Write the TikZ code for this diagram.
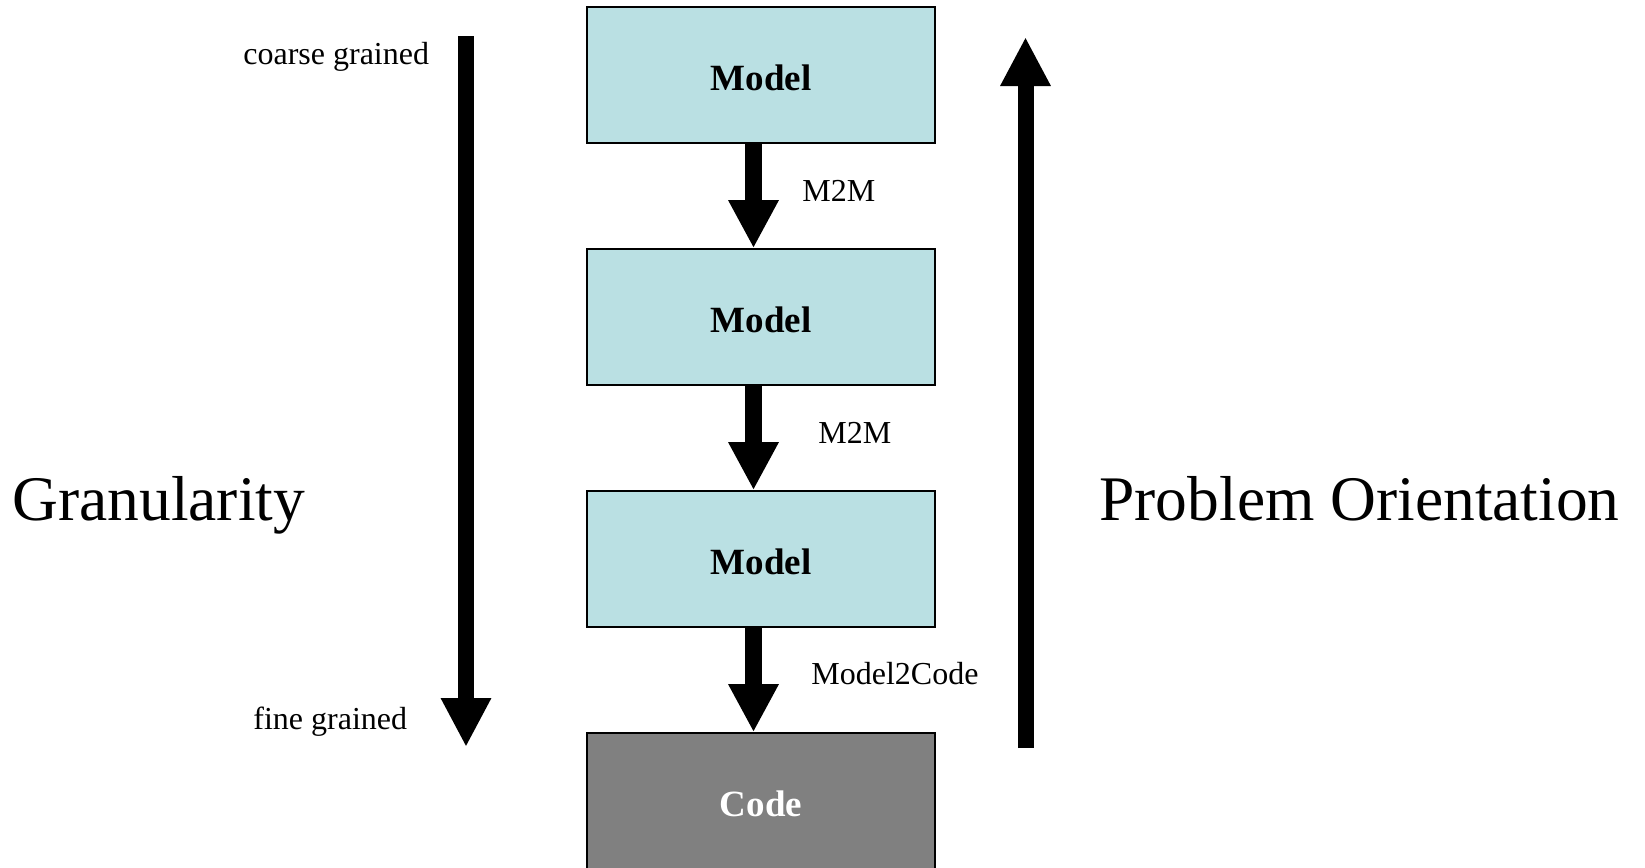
\documentclass[tikz,border=0pt]{standalone}
\usepackage{fontspec}
\setmainfont{Liberation Serif}
\usetikzlibrary{arrows.meta}
\definecolor{modelfill}{RGB}{186,224,227}
\definecolor{codefill}{RGB}{128,128,128}
\begin{document}
\begin{tikzpicture}[x=0.5pt,y=-0.5pt,
  stage/.style={draw=black,line width=0.8pt,minimum width=174pt,minimum height=68pt,inner sep=0pt,
    text depth=0pt,text height=15.5pt,font=\fontsize{18.5}{20}\selectfont\bfseries},
  modelbox/.style={stage,fill=modelfill},
  codebox/.style={stage,fill=codefill,text=white},
  flow/.style={line width=8.5pt,-{Triangle[width=23.5pt,length=24pt]}},
  axisarrow/.style={line width=8pt,-{Triangle[width=23.5pt,length=24.5pt]}},
  small/.style={anchor=base west,inner sep=0pt,font=\fontsize{16}{18}\selectfont},
  big/.style={anchor=base west,inner sep=0pt,font=\fontsize{31.75}{34}\selectfont}]
\useasboundingbox (0,0) rectangle (1645,868);

% the chain of models ending in code
\node[modelbox] (m1) at (761,75) {Model};
\node[modelbox] (m2) at (761,317) {Model};
\node[modelbox] (m3) at (761,559) {Model};
\node[codebox] (code) at (761,801) {Code};

\draw[flow] ([xshift=-3.75pt]m1.south) -- ([xshift=-3.75pt]m2.north);
\draw[flow] ([xshift=-3.75pt]m2.south) -- ([xshift=-3.75pt]m3.north);
\draw[flow] ([xshift=-3.75pt]m3.south) -- ([xshift=-3.75pt]code.north);

\node[small] (t1) at (802,201) {M2M};
\node[small] (t2) at (818,443) {M2M};
\node[small] (t3) at (811,684) {Model2Code};

% granularity axis (downwards)
\coordinate (gtop) at (466,36);
\coordinate (gbot) at (466,747);
\draw[axisarrow] (gtop) -- (gbot);
\node[small] (coarse) at (243,64) {coarse grained};
\node[small] (fine) at (253,729) {fine grained};
\node[big] (gran) at (12,520) {Granularity};

% problem orientation axis (upwards)
\coordinate (pbot) at (1025.5,748);
\coordinate (ptop) at (1025.5,37);
\draw[axisarrow] (pbot) -- (ptop);
\node[big] (prob) at (1099,520) {Problem Orientation};
\end{tikzpicture}
\end{document}
